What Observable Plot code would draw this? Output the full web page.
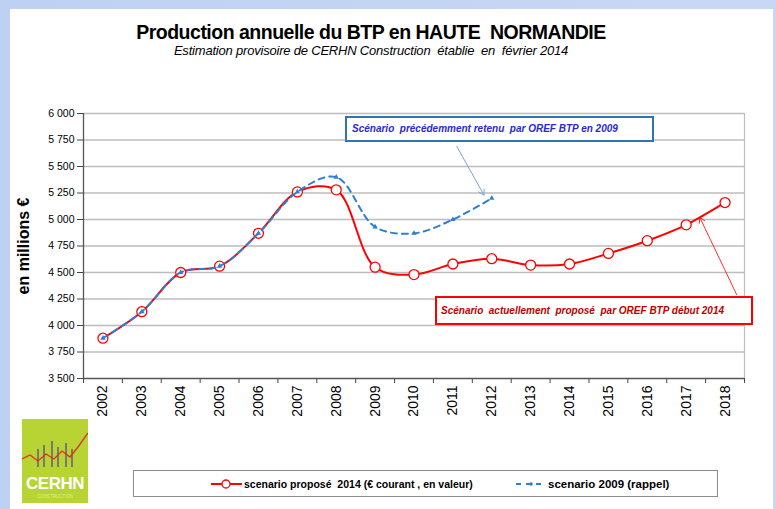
<!DOCTYPE html>
<html><head><meta charset="utf-8">
<script src="https://cdn.jsdelivr.net/npm/d3@7"></script>
<script src="https://cdn.jsdelivr.net/npm/@observablehq/plot@0.6"></script>
<style>
body{margin:0;}
#page{position:relative;width:776px;height:509px;background:linear-gradient(90deg,#bfd1f2,#c8d8f4);overflow:hidden;font-family:"Liberation Sans",Arial,sans-serif;}
#panel{position:absolute;left:10px;top:9px;width:763px;height:500px;background:#fff;}
#chart{position:absolute;left:0;top:0;}
.abs{position:absolute;white-space:nowrap;}
#title{left:0;width:742px;top:21px;text-align:center;font-weight:bold;font-size:19.5px;letter-spacing:-0.5px;color:#000;}
#subtitle{left:0;width:742px;top:43px;text-align:center;font-style:italic;font-size:13px;letter-spacing:-0.2px;color:#000;}
#ylab{left:24px;top:246px;font-weight:bold;font-size:16px;transform:translate(-50%,-50%) rotate(-90deg);}
#box1{left:345px;top:116px;width:305px;height:22px;border:2px solid #2e75b6;background:#fff;font-style:italic;font-weight:bold;font-size:10px;color:#2a2ad0;line-height:22px;text-indent:5px;}
#box2{left:435px;top:296px;width:314px;height:25px;border:2px solid #ff0000;background:#fff;font-style:italic;font-weight:bold;font-size:10px;color:#c00000;line-height:25px;text-indent:4px;}
#legend{left:133px;top:470px;width:583px;height:25px;border:1px solid #8c8c8c;background:#fff;color:#000;}
#logo{left:22px;top:419px;width:66px;height:84px;background:#b8d334;}
</style></head>
<body>
<div id="page">
  <div id="panel"></div>
  <div id="chart" class="abs"></div>
  <div id="title" class="abs">Production annuelle du BTP en HAUTE&nbsp; NORMANDIE</div>
  <div id="subtitle" class="abs">Estimation provisoire de CERHN Construction&nbsp; établie&nbsp; en&nbsp; février 2014</div>
  <div id="ylab" class="abs">en millions €</div>
  <div id="box1" class="abs">Scénario&nbsp; précédemment retenu&nbsp; par OREF BTP en 2009</div>
  <div id="box2" class="abs">Scénario&nbsp; actuellement&nbsp; proposé&nbsp; par OREF BTP début 2014</div>
  <div id="legend" class="abs">
    <svg width="583" height="25" style="position:absolute;left:0;top:0">
      <line x1="77" x2="108" y1="13" y2="13" stroke="#ff0000" stroke-width="2"/>
      <circle cx="92" cy="13" r="4" fill="#fff" stroke="#ff0000" stroke-width="1.3"/>
      <line x1="382" x2="412" y1="13" y2="13" stroke="#2e7fd0" stroke-width="2" stroke-dasharray="5,5"/>
      <circle cx="397" cy="13" r="1.8" fill="#2e7fd0"/>
      <text x="110" y="17" font-size="10.5" font-weight="bold" font-family="Liberation Sans, Arial, sans-serif">scenario proposé&#160; 2014 (€ courant , en valeur)</text>
      <text x="414" y="17" font-size="11.5" font-weight="bold" font-family="Liberation Sans, Arial, sans-serif">scenario 2009 (rappel)</text>
    </svg>
  </div>
  <div id="logo" class="abs">
    <svg width="66" height="84" style="position:absolute;left:0;top:0">
      <g stroke="#7a7a6a" stroke-width="2">
        <line x1="16" x2="16" y1="30" y2="48"/><line x1="22" x2="22" y1="26" y2="48"/>
        <line x1="30" x2="30" y1="22" y2="48"/><line x1="36" x2="36" y1="28" y2="48"/>
        <line x1="44" x2="44" y1="24" y2="48"/><line x1="50" x2="50" y1="30" y2="48"/>
      </g>
      <polyline points="0,40 8,36 16,42 24,35 32,40 40,32 48,38 56,28 66,14" fill="none" stroke="#e03020" stroke-width="1.3"/>
      <text x="33" y="70" text-anchor="middle" fill="#fff" font-weight="bold" font-size="17" letter-spacing="-0.5" font-family="Liberation Sans, Arial, sans-serif">CERHN</text>
      <text x="33" y="79" text-anchor="middle" fill="#e6f08a" font-size="4.5" font-family="Liberation Sans, Arial, sans-serif">CONSTRUCTION</text>
    </svg>
  </div>
</div>
<script>
const years = [2002,2003,2004,2005,2006,2007,2008,2009,2010,2011,2012,2013,2014,2015,2016,2017,2018];
const scenario2014 = [3880,4130,4500,4560,4870,5260,5280,4550,4480,4580,4630,4570,4580,4680,4800,4950,5160];
const years2009 = [2002,2003,2004,2005,2006,2007,2008,2009,2010,2011,2012];
const scenario2009 = [3880,4130,4500,4560,4870,5260,5400,4930,4870,5000,5200];
const yTicks = [3500,3750,4000,4250,4500,4750,5000,5250,5500,5750,6000];
// annotation arrows (data coordinates: year, value)
const arrowBlue = [{x1:2011.1, y1:5690, x2:2011.8, y2:5230}];
const arrowRed = [{x1:2018.3, y1:4290, x2:2017.35, y2:5020}];

const red = years.map((y,i)=>({year:y, value:scenario2014[i]}));
const blue = years2009.map((y,i)=>({year:y, value:scenario2009[i]}));
const bounds = years.map(y=>y-0.5).concat([years[years.length-1]+0.5]);
const fmt = v => d3.format(",")(v).replace(",", " ");
const font = '"Liberation Sans",Arial,sans-serif';

const chart = Plot.plot({
  width: 776, height: 509,
  marginLeft: 83, marginRight: 32, marginTop: 113, marginBottom: 131,
  x: {type:"linear", domain:[bounds[0], bounds[bounds.length-1]]},
  y: {domain:[3500,6000]},
  style: {background:"transparent", fontFamily: font, color:"#000", overflow:"visible"},
  marks: [
    Plot.ruleY(yTicks.slice(1), {stroke:"#bdbdbd", strokeWidth:1.6}),
    Plot.ruleX([bounds[bounds.length-1]], {stroke:"#bdbdbd", strokeWidth:1.2}),
    Plot.axisY({ticks: yTicks, tickSize:6, tickPadding:3, tickFormat: fmt, label:null, fontSize:10.5, stroke:"#444"}),
    Plot.axisX({ticks: bounds, tickSize:5, tickFormat: ()=>"", label:null, stroke:"#444"}),
    Plot.axisX({ticks: years, tickSize:0, tickPadding:7, tickRotate:-90, tickFormat: d=>String(d), label:null, fontSize:14}),
    Plot.ruleX([bounds[0]], {stroke:"#555", strokeWidth:1.3}),
    Plot.ruleY([3500], {stroke:"#555", strokeWidth:1.3}),
    Plot.arrow(arrowBlue, {x1:"x1", y1:"y1", x2:"x2", y2:"y2", stroke:"#7aa3d8", strokeWidth:1, headLength:9}),
    Plot.arrow(arrowRed, {x1:"x1", y1:"y1", x2:"x2", y2:"y2", stroke:"#ff3030", strokeWidth:1, headLength:9}),
    Plot.line(red, {x:"year", y:"value", stroke:"#ff0000", strokeWidth:2, curve:"catmull-rom"}),
    Plot.dot(red, {x:"year", y:"value", r:5, fill:"#fff", stroke:"#ff0000", strokeWidth:1.3}),
    Plot.line(blue, {x:"year", y:"value", stroke:"#2e7fd0", strokeWidth:2, strokeDasharray:"6,5", curve:"catmull-rom"}),
    Plot.dot(blue, {x:"year", y:"value", r:2, fill:"#2e7fd0", symbol:"triangle"})
  ]
});
document.getElementById("chart").appendChild(chart);
</script>
</body></html>
